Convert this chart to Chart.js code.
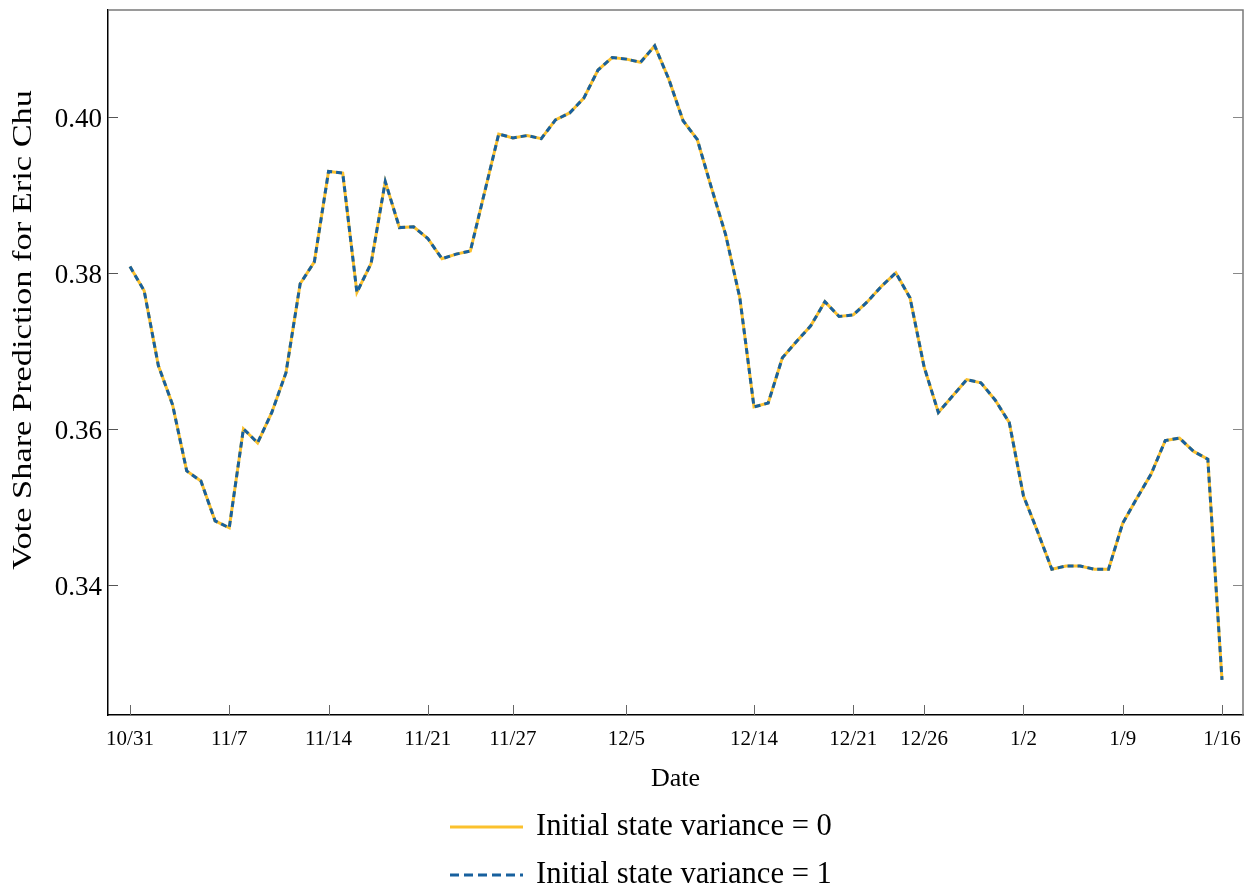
<!DOCTYPE html>
<html>
<head>
<meta charset="utf-8">
<script src="https://cdn.jsdelivr.net/npm/chart.js@4.4.1/dist/chart.umd.min.js"></script>
<style>
  html, body { margin: 0; padding: 0; background: #ffffff; }
  #wrap { position: relative; width: 1257px; height: 895px; }
</style>
</head>
<body>
<div id="wrap"><canvas id="c" width="1257" height="895"></canvas></div>
<script>
// ---- data (one point per day starting 10/31) ----
const dateTickLabels = ['10/31','11/7','11/14','11/21','11/27','12/5','12/14','12/21','12/26','1/2','1/9','1/16'];
const dateTickDays   = [0, 7, 14, 21, 27, 35, 44, 51, 56, 63, 70, 77];

const shareVariance0 = [
  0.3808, 0.3777, 0.3681, 0.3631, 0.3546, 0.3533, 0.3482, 0.3473, 0.3600, 0.3582,
  0.3621, 0.3672, 0.3786, 0.3814, 0.3930, 0.3928, 0.3775, 0.3812, 0.3917, 0.3858,
  0.3859, 0.3844, 0.3818, 0.3824, 0.3828, 0.3903, 0.3978, 0.3973, 0.3976, 0.3972,
  0.3996, 0.4005, 0.4024, 0.4060, 0.4076, 0.4074, 0.4070, 0.4091, 0.4048, 0.3995,
  0.3971, 0.3909, 0.3849, 0.3768, 0.3628, 0.3633, 0.3691, 0.3712, 0.3732, 0.3763,
  0.3744, 0.3746, 0.3763, 0.3783, 0.3800, 0.3768, 0.3679, 0.3621, 0.3642, 0.3663,
  0.3659, 0.3637, 0.3608, 0.3514, 0.3468, 0.3420, 0.3424, 0.3424, 0.3420, 0.3420,
  0.3479, 0.3511, 0.3542, 0.3585, 0.3588, 0.3571, 0.3561, 0.3278
];
const shareVariance1 = [
  0.3808, 0.3777, 0.3681, 0.3631, 0.3546, 0.3533, 0.3482, 0.3473, 0.3600, 0.3582,
  0.3621, 0.3672, 0.3786, 0.3814, 0.3930, 0.3928, 0.3775, 0.3812, 0.3917, 0.3858,
  0.3859, 0.3844, 0.3818, 0.3824, 0.3828, 0.3903, 0.3978, 0.3973, 0.3976, 0.3972,
  0.3996, 0.4005, 0.4024, 0.4060, 0.4076, 0.4074, 0.4070, 0.4091, 0.4048, 0.3995,
  0.3971, 0.3909, 0.3849, 0.3768, 0.3628, 0.3633, 0.3691, 0.3712, 0.3732, 0.3763,
  0.3744, 0.3746, 0.3763, 0.3783, 0.3800, 0.3768, 0.3679, 0.3621, 0.3642, 0.3663,
  0.3659, 0.3637, 0.3608, 0.3514, 0.3468, 0.3420, 0.3424, 0.3424, 0.3420, 0.3420,
  0.3479, 0.3511, 0.3542, 0.3585, 0.3588, 0.3571, 0.3561, 0.3278
];
const yMajorTicks = [0.34, 0.36, 0.38, 0.40];
const yMinorStep = 0.005;

const seriesNames = ['Initial state variance = 0', 'Initial state variance = 1'];
const yTitle = 'Vote Share Prediction for Eric Chu';
const xTitle = 'Date';
const YELLOW = '#FBC12D';
const BLUE = '#17609E';
const SERIF = '"Liberation Serif", "Times New Roman", Times, serif';

const toPoints = arr => arr.map((v, i) => ({ x: i, y: v }));

// ---- plugins ----
const frameAndTicks = {
  id: 'frameAndTicks',
  afterDatasetsDraw(chart) {
    const { ctx, chartArea: a, scales } = chart;
    const ys = scales.y, xs = scales.x;
    ctx.save();
    ctx.lineWidth = 1.5;
    ctx.strokeStyle = '#7a7a7a';
    ctx.beginPath();
    ctx.moveTo(a.left, a.top); ctx.lineTo(a.right, a.top); ctx.lineTo(a.right, a.bottom);
    ctx.stroke();
    ctx.lineWidth = 1;
    ys.ticks.forEach(t => {
      const isMajor = yMajorTicks.some(m => Math.abs(m - t.value) < 1e-6);
      const len = isMajor ? 10 : 6;
      const py = Math.round(ys.getPixelForValue(t.value)) + 0.5;
      ctx.strokeStyle = '#555';
      ctx.beginPath(); ctx.moveTo(a.left, py); ctx.lineTo(a.left + len, py); ctx.stroke();
      ctx.strokeStyle = '#888';
      ctx.beginPath(); ctx.moveTo(a.right, py); ctx.lineTo(a.right - len, py); ctx.stroke();
    });
    ctx.strokeStyle = '#666';
    xs.ticks.forEach(t => {
      const px = Math.round(xs.getPixelForValue(t.value)) + 0.5;
      ctx.beginPath(); ctx.moveTo(px, a.bottom); ctx.lineTo(px, a.bottom - 10); ctx.stroke();
    });
    ctx.restore();
  }
};

const yTitlePlugin = {
  id: 'yTitlePlugin',
  afterDraw(chart) {
    const { ctx } = chart;
    ctx.save();
    ctx.font = '27px ' + SERIF;
    const w = ctx.measureText(yTitle).width;
    const target = 480;
    ctx.translate(24, 330);
    ctx.rotate(-Math.PI / 2);
    ctx.scale(target / w, 1);
    ctx.fillStyle = '#000';
    ctx.textAlign = 'center';
    ctx.textBaseline = 'middle';
    ctx.fillText(yTitle, 0, 0);
    ctx.restore();
  }
};

const bottomLegend = {
  id: 'bottomLegend',
  afterDraw(chart) {
    const { ctx } = chart;
    const rows = [
      { y: 827, color: chart.data.datasets[1].borderColor, dash: [], text: chart.data.datasets[1].label },
      { y: 875, color: chart.data.datasets[0].borderColor, dash: [9, 5], text: chart.data.datasets[0].label }
    ];
    ctx.save();
    rows.forEach(r => {
      ctx.strokeStyle = r.color;
      ctx.lineWidth = 3;
      ctx.setLineDash(r.dash);
      ctx.beginPath(); ctx.moveTo(450, r.y); ctx.lineTo(523, r.y); ctx.stroke();
      ctx.setLineDash([]);
      ctx.fillStyle = '#000';
      ctx.font = '30.6px ' + SERIF;
      ctx.textAlign = 'left';
      ctx.textBaseline = 'middle';
      ctx.fillText(r.text, 536, r.y);
    });
    ctx.restore();
  }
};

new Chart(document.getElementById('c'), {
  type: 'line',
  data: {
    datasets: [
      {
        label: seriesNames[1],
        data: toPoints(shareVariance1),
        borderColor: BLUE,
        borderWidth: 3,
        borderDash: [6, 4],
        pointRadius: 0,
        tension: 0,
        fill: false,
        order: 1
      },
      {
        label: seriesNames[0],
        data: toPoints(shareVariance0),
        borderColor: YELLOW,
        borderWidth: 3,
        pointRadius: 0,
        tension: 0,
        fill: false,
        order: 2
      }
    ]
  },
  options: {
    responsive: false,
    animation: false,
    devicePixelRatio: 1,
    layout: { autoPadding: false, padding: { left: 0, right: 14, top: 10, bottom: 100 } },
    plugins: { legend: { display: false }, tooltip: { enabled: false } },
    scales: {
      x: {
        type: 'linear',
        min: -1.55,
        max: 78.48,
        grid: { display: false, drawTicks: false },
        border: { display: true, color: '#000', width: 1.5 },
        ticks: {
          autoSkip: false,
          maxRotation: 0,
          padding: 12,
          color: '#000',
          font: { family: SERIF, size: 21 },
          callback: (v) => {
            const k = dateTickDays.indexOf(v);
            return k >= 0 ? dateTickLabels[k] : null;
          }
        },
        afterBuildTicks: (s) => { s.ticks = dateTickDays.map(d => ({ value: d })); },
        afterFit: (s) => { s.height = 80; s.paddingLeft = 0; s.paddingRight = 0; s.paddingTop = 0; s.paddingBottom = 0; },
        title: {
          display: true,
          text: xTitle,
          color: '#000',
          font: { family: SERIF, size: 26 },
          padding: { top: 0, bottom: 0 }
        }
      },
      y: {
        type: 'linear',
        min: 0.3233,
        max: 0.4137,
        grid: { display: false, drawTicks: false },
        border: { display: true, color: '#000', width: 1.5 },
        ticks: {
          autoSkip: false,
          padding: 6,
          labelOffset: 3,
          color: '#000',
          font: { family: SERIF, size: 27 },
          callback: (v) => {
            const m = yMajorTicks.find(t => Math.abs(t - v) < 1e-6);
            return m !== undefined ? m.toFixed(2) : null;
          }
        },
        afterBuildTicks: (s) => {
          const out = [];
          const start = Math.ceil(s.min / yMinorStep - 1e-6);
          const end = Math.floor(s.max / yMinorStep + 1e-6);
          for (let k = start; k <= end; k++) out.push({ value: +(k * yMinorStep).toFixed(4) });
          s.ticks = out;
        },
        afterFit: (s) => { s.width = 108; s.paddingTop = 0; s.paddingBottom = 0; s.paddingLeft = 0; s.paddingRight = 0; },
        title: { display: false }
      }
    }
  },
  plugins: [frameAndTicks, yTitlePlugin, bottomLegend]
});
</script>
</body>
</html>
